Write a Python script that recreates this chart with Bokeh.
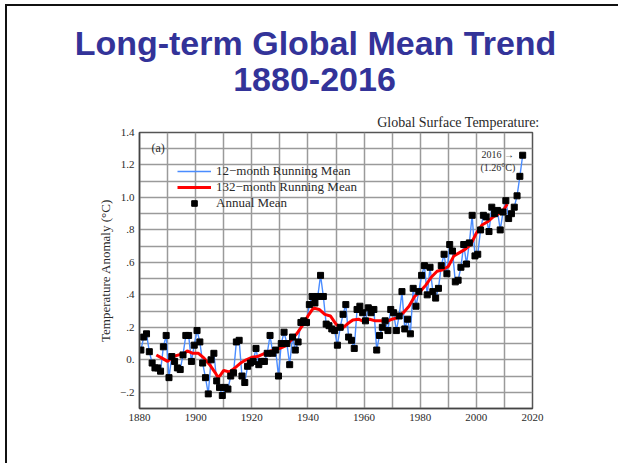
from bokeh.plotting import figure
from bokeh.layouts import column
from bokeh.models import FixedTicker, Label, Legend, LegendItem
from bokeh.embed import file_html
from bokeh.resources import INLINE
from bokeh.core.properties import value

# ---------------- data ----------------
years = list(range(1880, 2017))
annual = [
    0.06, 0.14, 0.16, 0.05, -0.02, -0.05, -0.05, -0.07, 0.08, 0.15,
    -0.11, 0.02, -0.01, -0.05, -0.06, 0.03, 0.15, 0.15, -0.01, 0.09,
    0.18, 0.11, -0.02, -0.11, -0.21, 0.00, 0.04, -0.13, -0.17, -0.22,
    -0.17, -0.18, -0.10, -0.08, 0.11, 0.12, -0.10, -0.14, -0.04, -0.02,
    -0.01, 0.07, -0.03, -0.01, -0.01, 0.04, 0.15, 0.04, 0.06, -0.10,
    0.10, 0.17, 0.10, -0.03, 0.14, 0.06, 0.11, 0.23, 0.24, 0.23,
    0.34, 0.39, 0.35, 0.39, 0.52, 0.39, 0.22, 0.21, 0.19, 0.18,
    0.09, 0.20, 0.28, 0.34, 0.14, 0.12, 0.07, 0.31, 0.33, 0.29,
    0.24, 0.32, 0.29, 0.31, 0.06, 0.15, 0.20, 0.24, 0.18, 0.31,
    0.29, 0.18, 0.27, 0.42, 0.19, 0.25, 0.16, 0.44, 0.33, 0.42,
    0.52, 0.58, 0.40, 0.57, 0.42, 0.38, 0.44, 0.58, 0.65, 0.53,
    0.71, 0.67, 0.48, 0.49, 0.57, 0.71, 0.59, 0.72, 0.89, 0.64,
    0.65, 0.80, 0.89, 0.88, 0.79, 0.94, 0.90, 0.92, 0.80, 0.91,
    0.98, 0.87, 0.90, 0.94, 1.01, 1.13, 1.26,
]
annual_x = [y + 0.5 for y in years]

smooth_years = [
    1886, 1888, 1890, 1892, 1894, 1896, 1897, 1899, 1901, 1903,
    1905, 1907, 1908, 1909, 1910, 1912, 1914, 1916, 1918, 1920,
    1922, 1924, 1926, 1928, 1930, 1932, 1934, 1936, 1938, 1940,
    1942, 1944, 1946, 1948, 1950, 1952, 1954, 1956, 1958, 1960,
    1962, 1964, 1966, 1968, 1970, 1972, 1974, 1976, 1978, 1980,
    1982, 1984, 1986, 1988, 1990, 1992, 1994, 1996, 1998, 2000,
    2002, 2004, 2006, 2008, 2010, 2011,
]
smooth_vals = [
    0.03, 0.01, -0.01, 0.02, 0.03, 0.04, 0.055, 0.04, 0.04, 0.01,
    -0.03, -0.08, -0.11, -0.09, -0.065, -0.075, -0.05, -0.02, 0.0, 0.015,
    0.02, 0.035, 0.05, 0.06, 0.07, 0.085, 0.12, 0.16, 0.21, 0.27,
    0.32, 0.31, 0.28, 0.27, 0.22, 0.19, 0.22, 0.245, 0.25, 0.235,
    0.25, 0.24, 0.24, 0.235, 0.25, 0.26, 0.29, 0.33, 0.39, 0.42,
    0.46, 0.51, 0.545, 0.555, 0.575, 0.64, 0.66, 0.68, 0.71, 0.78,
    0.83, 0.85, 0.88, 0.90, 0.93, 0.96,
]

x_ticks = [1880, 1900, 1920, 1940, 1960, 1980, 2000, 2020]
x_grid = [1880, 1890, 1900, 1910, 1920, 1930, 1940, 1950, 1960, 1970,
          1980, 1990, 2000, 2010, 2020]
y_ticks = [-0.2, 0.0, 0.2, 0.4, 0.6, 0.8, 1.0, 1.2, 1.4]
y_tick_labels = ["\u2212.2", "0.", ".2", ".4", ".6", ".8", "1.0", "1.2", "1.4"]
y_grid = [-0.2, -0.1, 0.0, 0.1, 0.2, 0.3, 0.4, 0.5, 0.6, 0.7, 0.8, 0.9,
          1.0, 1.1, 1.2, 1.3, 1.4]

legend_labels = ["12\u2212month Running Mean", "132\u2212month Running Mean", "Annual Mean"]
title_lines = ["Long-term Global Mean Trend", "1880-2016"]
subtitle = "Global Surface Temperature:"

# ---------------- layout (page pixels) ----------------
ML, MT = 5, 4              # column margin (page has no body margin)
BW = 2                     # slide border width
OX, OY = ML + BW, MT + BW  # page position of canvas origin
W = 611
HTOP = 102                 # header canvas: page y 6 .. 108
HCH = 355                  # chart canvas: page y 108 .. 463
FL, FT, FR, FB = 139, 132, 532, 408   # frame edges on page
X0, X1, Y0, Y1 = 1880, 2020, -0.3, 1.4


def X(px):
    return X0 + (px - FL) * (X1 - X0) / (FR - FL)


def Y(py):
    return Y1 - (py - FT) * (Y1 - Y0) / (FB - FT)


SERIF = "Liberation Serif"
TXT = "#2a2a2a"
TITLE = "#333399"

# ---------------- header (title) ----------------
head = figure(width=W, height=HTOP, x_range=(OX, OX + W), y_range=(OY + HTOP, OY),
              x_axis_type=None, y_axis_type=None, min_border=0,
              output_backend="svg", toolbar_location=None)
head.frame_align = False
head.outline_line_color = None
head.grid.visible = False
head.text(x=[315, 314], y=[42, 79], text=title_lines,
          text_align="center", text_baseline="alphabetic",
          text_font=value("Liberation Sans"), text_font_style="bold",
          text_font_size="34px", text_color=TITLE)

# ---------------- chart ----------------
CT = OY + HTOP  # page y of chart canvas top
p = figure(
    width=W, height=HCH,
    x_range=(X0, X1), y_range=(Y0, Y1),
    output_backend="svg", toolbar_location=None,
    min_border_left=FL - OX, min_border_top=FT - CT,
    min_border_right=W - (FR - OX), min_border_bottom=(CT + HCH) - FB,
    title=subtitle,
)
p.frame_align = False
p.title.align = "right"
p.title.offset = -7
p.title.standoff = 6
p.title.text_font = SERIF
p.title.text_font_size = "14px"
p.title.text_font_style = "normal"
p.title.text_color = TXT

p.outline_line_color = "#555555"
p.outline_line_width = 1.5

p.xaxis.ticker = FixedTicker(ticks=x_ticks)
p.yaxis.ticker = FixedTicker(ticks=y_ticks)
p.yaxis.major_label_overrides = {t: l for t, l in zip(y_ticks, y_tick_labels)}
p.xgrid.ticker = FixedTicker(ticks=x_grid)
p.ygrid.ticker = FixedTicker(ticks=y_grid)
for g in (p.xgrid, p.ygrid):
    g.grid_line_color = "#9a9a9a"
    g.grid_line_width = 1.5

for ax in (p.xaxis, p.yaxis):
    ax.axis_line_color = "#444444"
    ax.axis_line_width = 1.5
    ax.major_tick_line_color = None
    ax.minor_tick_line_color = None
    ax.major_tick_out = 0
    ax.major_tick_in = 0
    ax.minor_tick_out = 0
    ax.minor_tick_in = 0
    ax.major_label_text_font = SERIF
    ax.major_label_text_font_size = "11px"
    ax.major_label_text_color = TXT
p.xaxis.major_label_standoff = 5
p.yaxis.major_label_standoff = 5
p.yaxis.axis_label = "Temperature Anomaly (\u00b0C)"
p.yaxis.axis_label_text_font = SERIF
p.yaxis.axis_label_text_font_size = "13px"
p.yaxis.axis_label_text_font_style = "normal"
p.yaxis.axis_label_text_color = TXT
p.yaxis.axis_label_standoff = 4

blue = p.line(annual_x, annual, line_color="#4a8cff", line_width=1.4)
red = p.line(smooth_years, smooth_vals, line_color="#ff0000", line_width=3)
sq = p.scatter(annual_x, annual, marker="square", size=6, color="black")

legend = Legend(
    items=[LegendItem(label=legend_labels[0], renderers=[blue]),
           LegendItem(label=legend_labels[1], renderers=[red]),
           LegendItem(label=legend_labels[2], renderers=[sq])],
    location=(177 - FL, FB - 211),
    padding=0, margin=0, spacing=0,
    glyph_width=34, glyph_height=14, label_height=14, label_standoff=5,
    label_text_font=SERIF, label_text_font_size="13px", label_text_color=TXT,
    background_fill_alpha=0, border_line_alpha=0,
)
p.add_layout(legend)

p.add_layout(Label(x=X(151), y=Y(147), text="(a)",
                   text_align="left", text_baseline="middle",
                   text_font=SERIF, text_font_size="12px", text_color=TXT))
p.add_layout(Label(x=X(481), y=Y(154), text="2016 \u2192",
                   text_align="left", text_baseline="middle",
                   text_font=SERIF, text_font_size="10px", text_color=TXT))
p.add_layout(Label(x=X(480), y=Y(167), text="(1.26\u00b0C)",
                   text_align="left", text_baseline="middle",
                   text_font=SERIF, text_font_size="10px", text_color=TXT))

page = column(head, p, spacing=0, margin=(MT, 0, 0, ML),
              styles={"border-left": "2px solid #111", "border-top": "2px solid #111"})

open("out.html", "w").write(file_html(page, INLINE))
